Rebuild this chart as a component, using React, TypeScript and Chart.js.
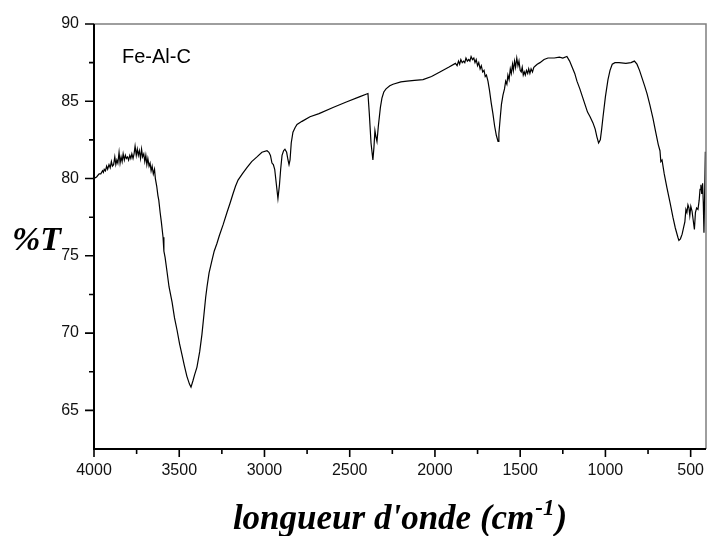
import React, { useEffect, useRef } from "react";
import { Chart, registerables } from "chart.js";

Chart.register(...registerables);

const wavenumbers: number[] = [
  4000, 3985, 3970, 3960, 3950, 3945, 3940, 3933, 3926, 3920, 3912, 3905, 3898, 3892, 3885, 3878, 3872, 3866, 3860, 3853,
  3847, 3841, 3835, 3829, 3822, 3816, 3810, 3803, 3797, 3790, 3784, 3778, 3771, 3765, 3759, 3752, 3746, 3740, 3734, 3727,
  3721, 3715, 3708, 3702, 3696, 3690, 3684, 3677, 3671, 3665, 3659, 3652, 3645, 3640, 3632, 3625, 3620, 3612, 3605, 3595,
  3590, 3583, 3572, 3560, 3542, 3528, 3513, 3498, 3484, 3470, 3455, 3440, 3431, 3420, 3410, 3396, 3380, 3367, 3355, 3345,
  3337, 3325, 3308, 3295, 3279, 3265, 3243, 3220, 3202, 3185, 3170, 3155, 3130, 3103, 3075, 3044, 3015, 2985, 2974, 2965,
  2956, 2948, 2940, 2930, 2921, 2912, 2905, 2897, 2888, 2880, 2870, 2862, 2856, 2850, 2843, 2833, 2820, 2809, 2780, 2733,
  2680, 2598, 2520, 2440, 2393, 2385, 2375, 2364, 2358, 2352, 2346, 2340, 2332, 2320, 2311, 2300, 2287, 2265, 2246, 2200,
  2164, 2120, 2070, 2020, 1971, 1920, 1880, 1870, 1862, 1855, 1848, 1840, 1832, 1825, 1818, 1810, 1802, 1795, 1788, 1780,
  1772, 1765, 1758, 1750, 1743, 1735, 1728, 1720, 1712, 1705, 1698, 1689, 1680, 1670, 1660, 1650, 1640, 1630, 1625, 1618,
  1610, 1601, 1592, 1585, 1578, 1572, 1565, 1558, 1552, 1545, 1540, 1533, 1527, 1520, 1513, 1507, 1500, 1494, 1488, 1482,
  1476, 1470, 1463, 1456, 1450, 1443, 1436, 1428, 1420, 1410, 1400, 1384, 1360, 1337, 1300, 1270, 1250, 1226, 1210, 1195,
  1180, 1167, 1150, 1135, 1120, 1105, 1090, 1073, 1060, 1050, 1040, 1030, 1022, 1014, 1000, 985, 973, 960, 944, 920,
  880, 850, 830, 815, 800, 785, 770, 756, 740, 721, 705, 690, 680, 675, 668, 655, 639, 620, 604, 590,
  575, 569, 560, 550, 540, 534, 528, 522, 516, 510, 505, 499, 492, 485, 478, 472, 465, 457, 450, 445,
  440, 435, 430, 426, 422, 418, 414, 410,
];

const transmittance: number[] = [
  80.0, 80.1, 80.3, 80.3, 80.5, 80.4, 80.6, 80.5, 80.8, 80.6, 80.9, 80.7, 81.1, 80.8, 80.9, 81.4, 80.9, 81.2, 81.0, 81.7,
  81.0, 81.4, 81.1, 81.6, 81.2, 81.5, 81.3, 81.4, 81.2, 81.5, 81.3, 81.6, 81.3, 81.6, 82.1, 81.5, 81.9, 81.5, 81.8, 81.3,
  81.9, 81.4, 81.6, 81.1, 81.5, 80.9, 81.3, 80.8, 81.0, 80.5, 80.8, 80.3, 80.6, 80.0, 79.5, 78.9, 78.6, 77.8, 77.2, 76.2,
  75.3, 74.9, 74.0, 73.0, 72.0, 71.0, 70.2, 69.3, 68.6, 67.9, 67.2, 66.7, 66.5, 66.9, 67.3, 67.8, 68.8, 69.9, 71.2, 72.3,
  73.0, 73.9, 74.7, 75.3, 75.8, 76.3, 77.0, 77.8, 78.4, 79.0, 79.5, 79.9, 80.3, 80.7, 81.1, 81.4, 81.7, 81.8, 81.7, 81.5,
  81.0, 80.9, 80.6, 79.6, 78.7, 79.6, 80.6, 81.5, 81.8, 81.9, 81.7, 81.2, 80.9, 81.2, 82.3, 83.0, 83.3, 83.5, 83.7, 84.0,
  84.2, 84.6, 84.95, 85.3, 85.5, 84.2, 82.3, 81.2, 82.0, 83.1, 82.7, 82.4, 83.4, 84.6, 85.2, 85.6, 85.8, 86.0, 86.1, 86.25,
  86.3, 86.35, 86.4, 86.6, 86.9, 87.2, 87.45, 87.3, 87.6, 87.4, 87.7, 87.5, 87.6, 87.5, 87.8, 87.6, 87.7, 87.6, 87.9, 87.7,
  87.8, 87.5, 87.7, 87.3, 87.5, 87.1, 87.3, 86.9, 87.0, 86.6, 86.7, 86.3, 85.7, 84.9, 84.2, 83.4, 82.8, 82.4, 82.9, 83.8,
  84.8, 85.4, 85.8, 86.3, 86.1, 86.7, 86.4, 87.1, 86.8, 87.4, 87.0, 87.6, 87.2, 87.8, 87.3, 87.6, 87.0, 86.9, 87.2, 86.7,
  86.9, 86.7, 87.0, 86.8, 87.1, 86.8, 87.1, 86.9, 87.2, 87.3, 87.4, 87.5, 87.7, 87.8, 87.8, 87.85, 87.8, 87.9, 87.6, 87.2,
  86.8, 86.3, 85.8, 85.3, 84.8, 84.3, 84.0, 83.6, 83.2, 82.7, 82.3, 82.5, 83.2, 84.0, 85.3, 86.4, 87.0, 87.4, 87.5, 87.5,
  87.45, 87.5, 87.6, 87.4, 87.0, 86.5, 86.0, 85.5, 84.8, 83.9, 83.0, 82.2, 81.8, 81.1, 81.2, 80.3, 79.4, 78.4, 77.5, 76.8,
  76.2, 76.0, 76.1, 76.4, 76.9, 77.2, 78.0, 77.8, 78.3, 78.1, 77.6, 78.2, 77.9, 77.3, 76.7, 77.8, 78.1, 78.0, 78.6, 79.3,
  79.6, 79.0, 79.7, 78.5, 76.5, 78.9, 81.7, 81.7,
];

const xTickLabels: number[] = [4000, 3500, 3000, 2500, 2000, 1500, 1000, 500];
const xMinorTicks: number[] = [3750, 3250, 2750, 2250, 1750, 1250, 750];
const yTickLabels: number[] = [65, 70, 75, 80, 85, 90];
const yMinorTicks: number[] = [67.5, 72.5, 77.5, 82.5, 87.5];
const sampleName = "Fe-Al-C";
const yTitle = "%T";
const xTitleMain = "longueur d'onde (cm";
const xTitleSup = "-1";
const xTitleEnd = ")";

const framePlugin = {
  id: "frame",
  afterDraw(chart: any) {
    const { ctx, chartArea, scales } = chart;
    const xs = scales.x;
    const ys = scales.y;
    const { left, right, top, bottom } = chartArea;
    ctx.save();
    ctx.strokeStyle = "#7f7f7f";
    ctx.lineWidth = 1.5;
    ctx.beginPath();
    ctx.moveTo(left, top);
    ctx.lineTo(right, top);
    ctx.lineTo(right, bottom);
    ctx.stroke();
    ctx.strokeStyle = "#000";
    ctx.lineWidth = 2;
    ctx.beginPath();
    ctx.moveTo(left, top);
    ctx.lineTo(left, bottom);
    ctx.lineTo(right, bottom);
    ctx.stroke();
    ctx.lineWidth = 1.6;
    ctx.beginPath();
    yTickLabels.forEach((v) => {
      const p = ys.getPixelForValue(v);
      ctx.moveTo(left - 9, p);
      ctx.lineTo(left, p);
    });
    yMinorTicks.forEach((v) => {
      const p = ys.getPixelForValue(v);
      ctx.moveTo(left - 5, p);
      ctx.lineTo(left, p);
    });
    xTickLabels.forEach((v) => {
      const p = xs.getPixelForValue(v);
      ctx.moveTo(p, bottom);
      ctx.lineTo(p, bottom + 8);
    });
    xMinorTicks.forEach((v) => {
      const p = xs.getPixelForValue(v);
      ctx.moveTo(p, bottom);
      ctx.lineTo(p, bottom + 5);
    });
    ctx.stroke();

    ctx.fillStyle = "#000";
    ctx.textBaseline = "alphabetic";
    ctx.textAlign = "left";
    ctx.font = '20px "Liberation Sans", Arial, sans-serif';
    ctx.fillText(sampleName, left + 28, top + 39);

    ctx.font = 'bold italic 34px "Liberation Serif", "Times New Roman", serif';
    ctx.fillText(yTitle, 12, 250);

    const mainFont = 'bold italic 35px "Liberation Serif", "Times New Roman", serif';
    const supFont = 'bold italic 23px "Liberation Serif", "Times New Roman", serif';
    ctx.font = mainFont;
    const w1 = ctx.measureText(xTitleMain).width;
    const w3 = ctx.measureText(xTitleEnd).width;
    ctx.font = supFont;
    const w2 = ctx.measureText(xTitleSup).width;
    const total = w1 + w2 + w3 + 2;
    const cx = (left + right) / 2;
    let x = cx - total / 2;
    const base = 529;
    ctx.font = mainFont;
    ctx.fillText(xTitleMain, x, base);
    x += w1 + 1;
    ctx.font = supFont;
    ctx.fillText(xTitleSup, x, base - 14);
    x += w2 + 1;
    ctx.font = mainFont;
    ctx.fillText(xTitleEnd, x, base);
    ctx.restore();
  },
};

export default function App() {
  const ref = useRef<HTMLCanvasElement | null>(null);
  useEffect(() => {
    if (!ref.current) return;
    const chart = new Chart(ref.current, {
      type: "line",
      data: {
        datasets: [
          {
            data: wavenumbers.map((w, i) => ({ x: w, y: transmittance[i] })),
            borderColor: "#000",
            borderWidth: 1.2,
            pointRadius: 0,
            tension: 0,
            fill: false,
          },
        ],
      },
      options: {
        animation: false,
        responsive: false,
        events: [],
        layout: { padding: { left: 0, right: 1, top: 24, bottom: 0 } },
        plugins: { legend: { display: false }, tooltip: { enabled: false } },
        scales: {
          x: {
            type: "linear",
            reverse: true,
            min: 410,
            max: 4000,
            grid: { display: false, drawTicks: false },
            border: { display: false },
            afterBuildTicks: (s: any) => {
              s.ticks = xTickLabels.map((v) => ({ value: v }));
            },
            afterFit: (s: any) => {
              s.height = 87;
              s.paddingLeft = 0;
              s.paddingRight = 0;
            },
            ticks: {
              color: "#111",
              padding: 12,
              maxRotation: 0,
              autoSkip: false,
              font: { family: '"Liberation Sans", Arial, sans-serif', size: 16 },
              callback: (v: any) => String(v),
            },
          },
          y: {
            type: "linear",
            min: 62.5,
            max: 90,
            grid: { display: false, drawTicks: false },
            border: { display: false },
            afterBuildTicks: (s: any) => {
              s.ticks = yTickLabels.map((v) => ({ value: v }));
            },
            afterFit: (s: any) => {
              s.width = 94;
              s.paddingTop = 0;
              s.paddingBottom = 0;
            },
            ticks: {
              color: "#111",
              padding: 15,
              autoSkip: false,
              font: { family: '"Liberation Sans", Arial, sans-serif', size: 16 },
              callback: (v: any) => String(v),
            },
          },
        },
      },
      plugins: [framePlugin],
    });
    return () => chart.destroy();
  }, []);
  return (
    <div style={{ position: "absolute", left: 0, top: 0, width: 707, height: 536, background: "#fff" }}>
      <canvas ref={ref} width={707} height={536} style={{ width: 707, height: 536, display: "block" }} />
    </div>
  );
}
